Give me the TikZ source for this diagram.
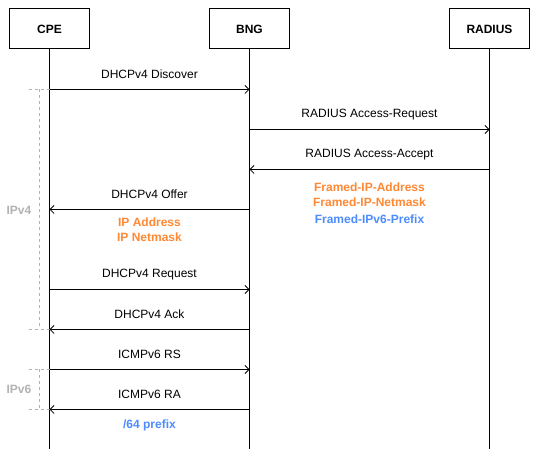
\documentclass[tikz,border=0pt]{standalone}
\usepackage{fontspec}
\setmainfont{Liberation Sans}
\usetikzlibrary{arrows.meta}
\definecolor{orng}{HTML}{FF8833}
\definecolor{blu}{HTML}{4D8CFF}
\definecolor{gry}{HTML}{B3B3B3}
\begin{document}
\begin{tikzpicture}[x=1pt,y=-1pt,
  font=\fontsize{12}{14}\selectfont,
  actor/.style={draw,line width=1pt,minimum width=80pt,minimum height=40pt,inner sep=0pt,font=\fontsize{12}{14}\selectfont\bfseries},
  life/.style={line width=1pt},
  msg/.style={line width=1pt,-{Straight Barb[length=4pt,width=8pt,line width=0.8pt]}},
  lbl/.style={inner sep=0pt,anchor=center},
  olbl/.style={inner sep=0pt,text=orng,font=\fontsize{12}{14}\selectfont\bfseries},
  blbl/.style={inner sep=0pt,text=blu,font=\fontsize{12}{14}\selectfont\bfseries},
  grp/.style={draw=gry,dashed,line width=0.8pt},
  glbl/.style={inner sep=0pt,text=gry,font=\fontsize{12}{14}\selectfont\bfseries}]
\useasboundingbox (0,0) rectangle (539,457);
\fill[white] (0,0) rectangle (539,457);
% actors
\node[actor] (cpe) at (49.5,29) {CPE};
\node[actor] (bng) at (249.5,29) {BNG};
\node[actor] (rad) at (489.5,29) {RADIUS};
\coordinate (cpeEnd) at (49.5,449);
\coordinate (bngEnd) at (249.5,449);
\coordinate (radEnd) at (489.5,449);
\draw[life] (cpe.south) -- (cpeEnd);
\draw[life] (bng.south) -- (bngEnd);
\draw[life] (rad.south) -- (radEnd);
% message endpoints
\coordinate (c1) at (49.5,89.5);  \coordinate (b1) at (249.5,89.5);
\coordinate (b2) at (249.5,129.5); \coordinate (r2) at (489.5,129.5);
\coordinate (r3) at (489.5,169.5); \coordinate (b3) at (249.5,169.5);
\coordinate (b4) at (249.5,209.5); \coordinate (c4) at (49.5,209.5);
\coordinate (c5) at (49.5,289.5); \coordinate (b5) at (249.5,289.5);
\coordinate (b6) at (249.5,329.5); \coordinate (c6) at (49.5,329.5);
\coordinate (c7) at (49.5,369.5); \coordinate (b7) at (249.5,369.5);
\coordinate (b8) at (249.5,409.5); \coordinate (c8) at (49.5,409.5);
% groups
\coordinate (g1a) at (29,89.5); \coordinate (g1b) at (39.5,89.5);
\coordinate (g1c) at (39.5,329.5); \coordinate (g1d) at (29,329.5);
\draw[grp] (g1a) -- (c1);
\draw[grp] (g1b) -- (g1c);
\draw[grp] (g1d) -- (c6);
\node[glbl] (ipv4) at (19,210) {IPv4};
\coordinate (g2a) at (29,369.5); \coordinate (g2b) at (39.5,369.5);
\coordinate (g2c) at (39.5,409.5); \coordinate (g2d) at (29,409.5);
\draw[grp] (g2a) -- (c7);
\draw[grp] (g2b) -- (g2c);
\draw[grp] (g2d) -- (c8);
\node[glbl] (ipv6) at (19,389) {IPv6};
% messages
\draw[msg] (c1) -- (b1);
\node[lbl] (m1) at (149.5,74.5) {DHCPv4 Discover};
\draw[msg] (b2) -- (r2);
\node[lbl] (m2) at (369.5,115) {RADIUS Access-Request};
\draw[msg] (r3) -- (b3);
\node[lbl] (m3) at (369.5,155) {RADIUS Access-Accept};
\node[olbl] (a1) at (369.5,187) {Framed-IP-Address};
\node[olbl] (a2) at (369.5,202) {Framed-IP-Netmask};
\node[blbl] (a3) at (369.5,219) {Framed-IPv6-Prefix};
\draw[msg] (b4) -- (c4);
\node[lbl] (m4) at (149.5,194.5) {DHCPv4 Offer};
\node[olbl] (o1) at (149.5,222) {IP Address};
\node[olbl] (o2) at (149.5,237) {IP Netmask};
\draw[msg] (c5) -- (b5);
\node[lbl] (m5) at (149.5,274.5) {DHCPv4 Request};
\draw[msg] (b6) -- (c6);
\node[lbl] (m6) at (149.5,314.5) {DHCPv4 Ack};
\draw[msg] (c7) -- (b7);
\node[lbl] (m7) at (149.5,354.5) {ICMPv6 RS};
\draw[msg] (b8) -- (c8);
\node[lbl] (m8) at (149.5,394.5) {ICMPv6 RA};
\node[blbl] (p1) at (149.5,425) {/64 prefix};
\end{tikzpicture}
\end{document}
